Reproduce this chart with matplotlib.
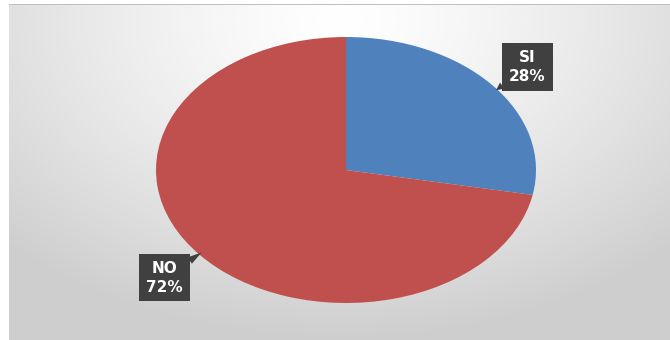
import numpy as np
import matplotlib.pyplot as plt

labels = ['SI', 'NO']
values = [28, 72]
colors = ['#4F81BD', '#C0504D']
label_pos = [(0.955, 0.775), (-0.955, -0.81)]
tip_pos = [(0.79, 0.60), (-0.76, -0.62)]

fig = plt.figure(figsize=(6.7, 3.4), dpi=100)

# fondo con degradado
bg = fig.add_axes([0, 0, 1, 1])
h, w = 340, 670
yy, xx = np.mgrid[0:h, 0:w]
d = np.sqrt(((xx - 340) / 560.0) ** 2 + ((yy - 20) / 380.0) ** 2)
g = np.clip(1 - 0.24 * d ** 1.3, 0.81, 1)
img = np.dstack([g, g, g])
img[:, :9] = 1
img[:4, :] = 1
img[4, 9:] = 0.75
bg.imshow(img, aspect='auto', extent=[0, 1, 0, 1], origin='upper')
bg.axis('off')

ax = fig.add_axes([156 / 670, 37 / 340, 380 / 670, 266 / 340])
ax.pie(values, colors=colors, startangle=90, counterclock=False,
       wedgeprops=dict(linewidth=0))
ax.set_aspect('auto')
ax.set_xlim(-1, 1)
ax.set_ylim(-1, 1)
ax.axis('off')

for lab, v, p, t in zip(labels, values, label_pos, tip_pos):
    ax.annotate(f'{lab}\n{v}%', xy=t, xytext=p, ha='center', va='center',
                color='white', fontsize=11, fontweight='bold',
                linespacing=1.3,
                bbox=dict(boxstyle='square,pad=0.45', fc='#404040', ec='none'),
                arrowprops=dict(arrowstyle='wedge,tail_width=0.5', fc='#404040',
                                ec='none', shrinkA=0, shrinkB=0),
                annotation_clip=False)

fig.savefig('out.png', dpi=100)
